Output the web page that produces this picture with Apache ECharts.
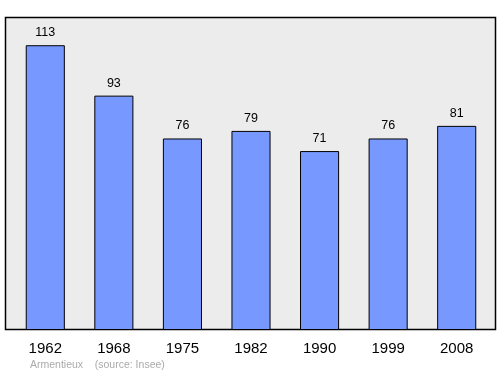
<!DOCTYPE html>
<html><head><meta charset="utf-8">
<script src="https://cdn.jsdelivr.net/npm/echarts@6/dist/echarts.min.js"></script>
<style>html,body{margin:0;padding:0;background:#fff}#c{width:500px;height:374px}</style>
</head><body><div id="c"></div>
<script>
const categories = ['1962','1968','1975','1982','1990','1999','2008'];
const population = [113, 93, 76, 79, 71, 76, 81];
const sourceText = 'Armentieux    (source: Insee)';

const chart = echarts.init(document.getElementById('c'), null, {renderer:'canvas'});
chart.setOption({
  animation: false,
  backgroundColor: '#ffffff',
  graphic: [
    {type:'rect', z:-10, shape:{x:5.5, y:17.5, width:490, height:312, r:0},
     style:{fill:'#ececec', stroke:'#000', lineWidth:1.5}},
    {type:'text', left:30, top:359.5, style:{text:sourceText, fill:'#aaaaaa', font:'10.5px "Liberation Sans", Arial, sans-serif'}}
  ],
  grid: {left:11, right:9, top:17, bottom:44, containLabel:false},
  xAxis: {
    type:'category', data:categories,
    axisLine:{show:false}, axisTick:{show:false},
    axisLabel:{color:'#000', fontSize:15, margin:11, fontFamily:'Liberation Sans'}
  },
  yAxis: {type:'value', min:0, max:124.2, show:false, splitLine:{show:false}},
  series: [{
    type:'bar', data:population, barWidth:'57%',
    itemStyle:{color:'#7799ff', borderColor:'#000', borderWidth:1},
    label:{show:true, position:'top', distance:6, color:'#000', fontSize:12.5, fontFamily:'Liberation Sans'}
  }]
});
</script></body></html>
